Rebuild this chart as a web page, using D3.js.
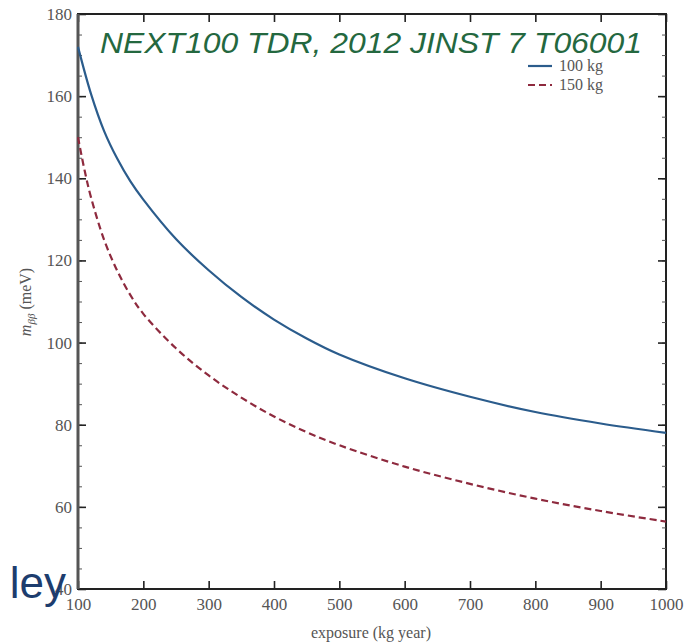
<!DOCTYPE html>
<html>
<head>
<meta charset="utf-8">
<script src="https://cdn.jsdelivr.net/npm/d3@7/dist/d3.min.js"></script>
<style>
  html, body { margin: 0; padding: 0; background: #fff; }
  svg { display: block; }
</style>
</head>
<body>
<svg id="chart" width="688" height="644"></svg>
<script>
// ---- data ----
const exposure100 = [100, 120, 140, 160, 180, 200, 250, 300, 350, 400, 450, 500, 600, 700, 800, 900, 1000];
const mbb100kg    = [172, 160.5, 151.5, 144.8, 139.3, 134.8, 125.2, 117.6, 111.1, 105.6, 101, 97.1, 91.3, 86.8, 83.1, 80.3, 78];
const exposure150 = [100, 110, 120, 140, 160, 180, 200, 250, 300, 350, 400, 450, 500, 600, 700, 800, 900, 1000];
const mbb150kg    = [150, 142, 135.3, 125, 117.5, 111.6, 107, 98.6, 92, 86.6, 82, 78.2, 75, 69.8, 65.6, 62, 59, 56.4];
const seriesNames = ["100 kg", "150 kg"];
const xTicks = [100, 200, 300, 400, 500, 600, 700, 800, 900, 1000];
const yTicks = [40, 60, 80, 100, 120, 140, 160, 180];
const yMinorTicks = d3.range(40, 181, 5);
const titleText = "NEXT100 TDR, 2012 JINST 7 T06001";
const xLabel = "exposure (kg year)";
const sideText = "ley";

// ---- layout ----
const svg = d3.select("#chart");
const L = 78, R = 666, T = 14, B = 589;
const x = d3.scaleLinear().domain([100, 1000]).range([L, R]);
const y = d3.scaleLinear().domain([40, 180]).range([B, T]);

const serif = "'Liberation Serif', 'DejaVu Serif', serif";

// frame
svg.append("rect").attr("x", L).attr("y", T).attr("width", R - L).attr("height", B - T)
  .attr("fill", "none").attr("stroke", "#222").attr("stroke-width", 2);

function styleAxis(g) {
  g.select(".domain").remove();
  g.selectAll(".tick line").attr("stroke", "#222").attr("stroke-width", 1.6);
}
// minor ticks (left, right)
svg.append("g").attr("transform", `translate(${L},0)`)
  .call(d3.axisLeft(y).tickValues(yMinorTicks).tickSize(-4).tickFormat(""))
  .call(styleAxis).selectAll(".tick line").attr("stroke", "#555").attr("stroke-width", 1);
svg.append("g").attr("transform", `translate(${R},0)`)
  .call(d3.axisRight(y).tickValues(yMinorTicks).tickSize(-4).tickFormat(""))
  .call(styleAxis).selectAll(".tick line").attr("stroke", "#555").attr("stroke-width", 1);

// major ticks
svg.append("g").attr("transform", `translate(${R},0)`)
  .call(d3.axisRight(y).tickValues(yTicks).tickSize(-8).tickFormat(""))
  .call(styleAxis);
svg.append("g").attr("transform", `translate(0,${T})`)
  .call(d3.axisTop(x).tickValues(xTicks).tickSize(-8).tickFormat(""))
  .call(styleAxis);

const gx = svg.append("g").attr("transform", `translate(0,${B})`)
  .call(d3.axisBottom(x).tickValues(xTicks).tickFormat(d3.format("d"))
        .tickSizeInner(-8).tickSizeOuter(0).tickPadding(18))
  .call(styleAxis);
gx.selectAll(".tick text").attr("font-family", serif).attr("font-size", 17)
  .attr("fill", "#555").attr("dy", "0.2em");

const gy = svg.append("g").attr("transform", `translate(${L},0)`)
  .call(d3.axisLeft(y).tickValues(yTicks).tickFormat(d3.format("d"))
        .tickSizeInner(-8).tickSizeOuter(0).tickPadding(6))
  .call(styleAxis);
gy.selectAll(".tick text").attr("font-family", serif).attr("font-size", 17)
  .attr("fill", "#555");

// left axis line slightly heavier grey
svg.append("line").attr("x1", L).attr("x2", L).attr("y1", T).attr("y2", B)
  .attr("stroke", "#555").attr("stroke-width", 3);

// curves
const line = d3.line().x(d => x(d[0])).y(d => y(d[1])).curve(d3.curveCatmullRom.alpha(0.5));
const d100 = exposure100.map((e, i) => [e, mbb100kg[i]]);
const d150 = exposure150.map((e, i) => [e, mbb150kg[i]]);
const colors = ["#2b5c8c", "#8e2a3e"];
const dashes = [null, "7,4"];

svg.append("path").datum(d100).attr("d", line).attr("fill", "none")
  .attr("stroke", colors[0]).attr("stroke-width", 2.2);
svg.append("path").datum(d150).attr("d", line).attr("fill", "none")
  .attr("stroke", colors[1]).attr("stroke-width", 2.2).attr("stroke-dasharray", dashes[1]);

// legend
const legend = svg.append("g");
seriesNames.forEach((name, i) => {
  const ly = 66 + i * 19;
  legend.append("line").attr("x1", 528).attr("x2", 552).attr("y1", ly).attr("y2", ly)
    .attr("stroke", colors[i]).attr("stroke-width", 2.2)
    .attr("stroke-dasharray", dashes[i]);
  legend.append("text").attr("x", 559).attr("y", ly + 5).text(name)
    .attr("font-family", serif).attr("font-size", 16).attr("fill", "#555");
});

// title
svg.append("text").attr("x", 371).attr("y", 53).attr("text-anchor", "middle")
  .attr("font-family", "'Liberation Sans', Arial, sans-serif").attr("font-style", "italic")
  .attr("font-size", 29).attr("fill", "#24683f").attr("textLength", 542)
  .attr("lengthAdjust", "spacingAndGlyphs").text(titleText);

// axis labels
svg.append("text").attr("x", 371).attr("y", 638).attr("text-anchor", "middle")
  .attr("font-family", serif).attr("font-size", 16).attr("fill", "#555").text(xLabel);

const yl = svg.append("text").attr("transform", "translate(31,302) rotate(-90)")
  .attr("text-anchor", "middle").attr("font-family", serif).attr("font-size", 16).attr("fill", "#555");
yl.append("tspan").attr("font-style", "italic").text("m");
yl.append("tspan").attr("font-style", "italic").attr("font-size", 11).attr("dy", 4).text("ββ");
yl.append("tspan").attr("dy", -4).text(" (meV)");

// slide text fragment
svg.append("text").attr("x", 66).attr("y", 598).attr("text-anchor", "end")
  .attr("font-family", "'Liberation Sans', Arial, sans-serif").attr("font-size", 44)
  .attr("fill", "#1d3d6e").text(sideText);
</script>
</body>
</html>
